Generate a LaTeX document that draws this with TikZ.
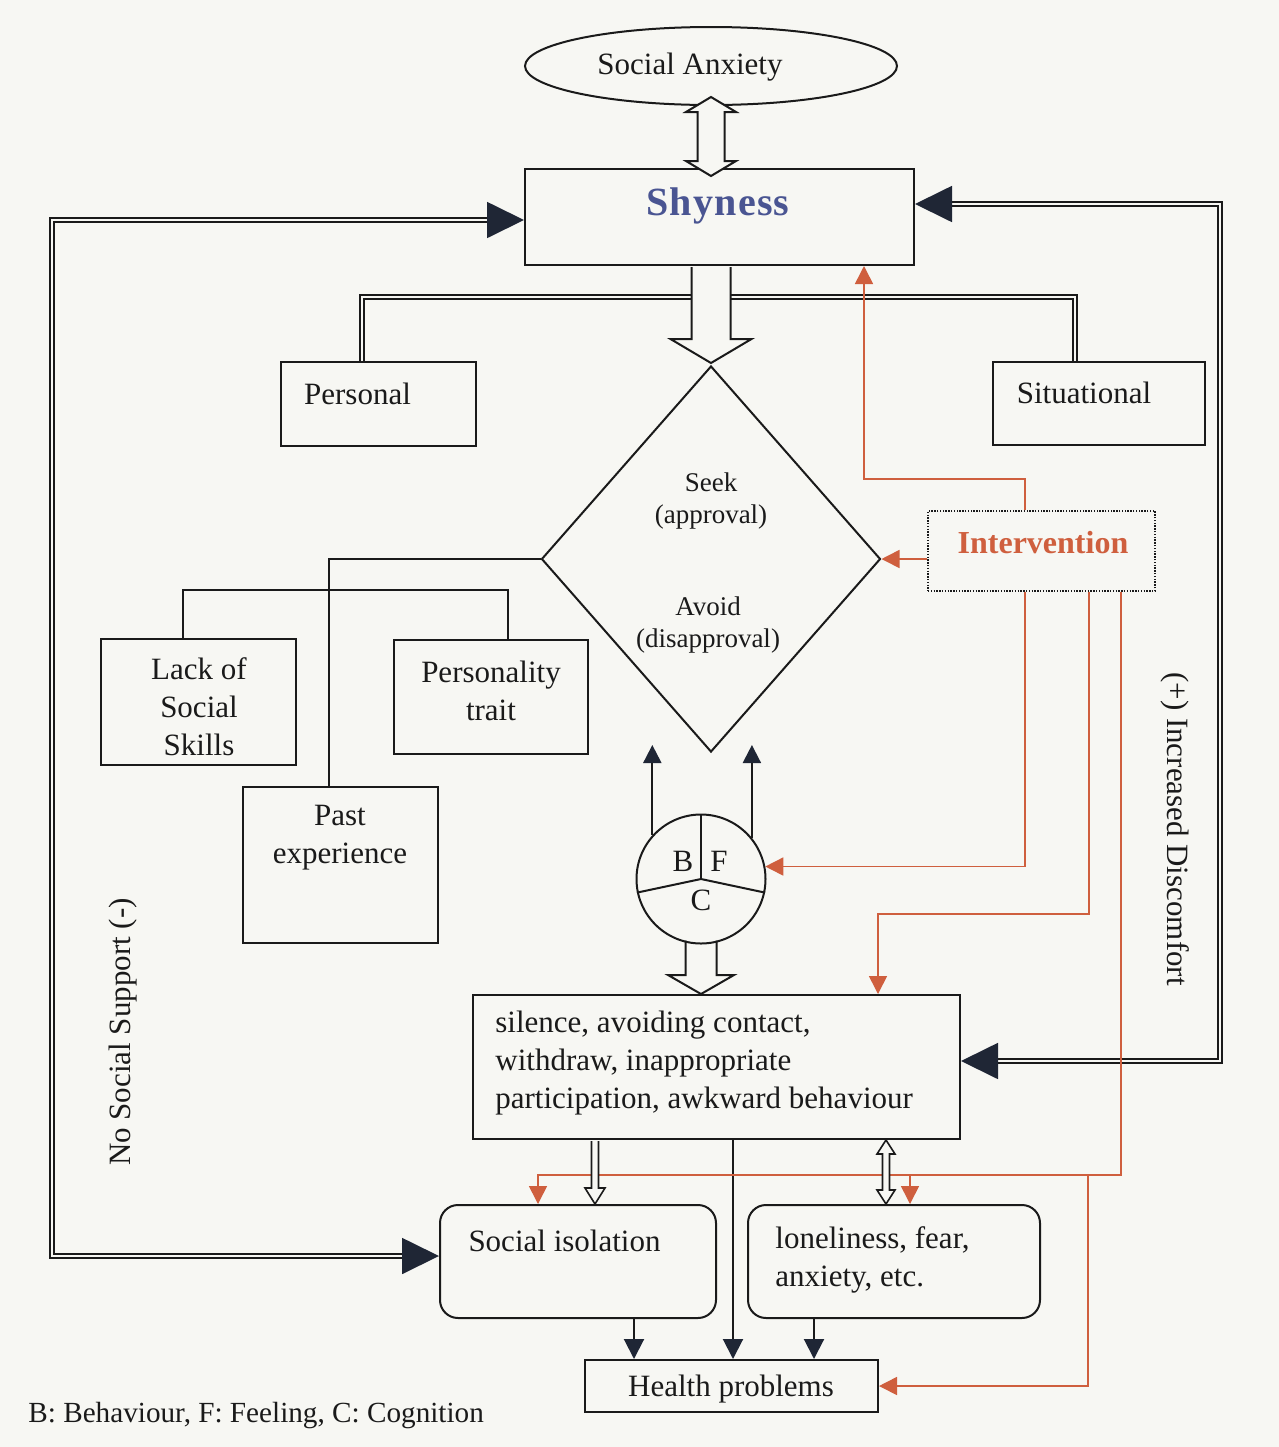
\documentclass[tikz,border=0pt]{standalone}
\usepackage{fontspec}
\setmainfont{Liberation Serif}
\newfontfamily\shyfont{Liberation Serif}[LetterSpace=3]
\usetikzlibrary{arrows.meta,shapes.geometric,calc}
\pgfdeclarelayer{back}
\pgfsetlayers{back,main}
\definecolor{bg}{HTML}{F7F7F3}
\definecolor{ink}{HTML}{1A1A1A}
\definecolor{navy}{HTML}{1F2635}
\definecolor{rust}{HTML}{CF5F3E}
\definecolor{shyblue}{HTML}{4A5592}
\begin{document}
\begin{tikzpicture}[x=0.5pt,y=-0.5pt,
  box/.style={draw=ink, line width=1pt, inner sep=0pt},
  rbox/.style={box, rounded corners=9pt},
  txt/.style={font=\fontsize{15.5pt}{19pt}\selectfont, text=ink, inner sep=0pt},
  small/.style={font=\fontsize{13.5pt}{16pt}\selectfont, text=ink, inner sep=0pt, align=center},
  wire/.style={draw=ink, line width=1pt},
  dbl/.style={draw=ink, line width=0.9pt, double=bg, double distance=1pt},
  bigtips/.style={{Triangle[length=18.5pt,width=18pt,color=navy]}-{Triangle[length=18.5pt,width=18pt,color=navy]}},
  navytip/.style={-{Triangle[length=10pt,width=10pt,color=navy]}},
  orng/.style={draw=rust, line width=0.8pt, -{Triangle[length=9pt,width=9pt]}},
  hollow/.style={draw=ink, line width=1pt, fill=bg, line join=miter}
]
\begin{pgfonlayer}{back}
\fill[bg] (0,0) rectangle (1279,1447);
\end{pgfonlayer}
\useasboundingbox (0,0) rectangle (1279,1447);

% ---------- nodes ----------
\node[draw=ink, line width=1pt, ellipse, minimum width=186pt, minimum height=39pt, inner sep=0pt] (sa) at (711,66) {};
\node[txt] (satext) at (690,67) {Social Anxiety};

\node[box, minimum width=194.5pt, minimum height=48pt] (shy) at (719.5,217) {};
\node[font=\shyfont\bfseries\fontsize{20pt}{24pt}\selectfont, text=shyblue, inner sep=0pt, anchor=base] (shytext) at (718,215) {Shyness};

\node[box, minimum width=97.5pt, minimum height=42pt] (personal) at (378.5,404) {};
\node[txt] (personaltext) at (357.5,394) {Personal};
\node[box, minimum width=106pt, minimum height=41.5pt] (situ) at (1099,403.5) {};
\node[txt] (situtext) at (1084,393) {Situational};

\node[draw=ink, line width=1pt, diamond, minimum width=169.5pt, minimum height=193pt, inner sep=0pt] (dia) at (711,559) {};
\node[small] (seek) at (711,501) {Seek\\(approval)};
\node[small] (avoid) at (708,625) {Avoid\\(disapproval)};

\node[draw=ink, line width=0.7pt, dash pattern=on 0.7pt off 0.7pt, inner sep=0pt, minimum width=113.5pt, minimum height=40pt] (int) at (1041.5,551) {};
\node[font=\bfseries\fontsize{16pt}{19pt}\selectfont, text=rust, inner sep=0pt] (inttext) at (1043,543) {Intervention};

\node[box, minimum width=97.5pt, minimum height=63pt] (lack) at (198.5,702) {};
\node[txt, align=center] (lacktext) at (199,707) {Lack of\\Social\\Skills};
\node[box, minimum width=97pt, minimum height=57pt] (pers) at (491,697) {};
\node[txt, align=center] (perstext) at (491,691) {Personality\\trait};
\node[box, minimum width=97.5pt, minimum height=78pt] (past) at (340.5,865) {};
\node[txt, align=center] (pasttext) at (340,838) {Past\\experience};

\node[draw=ink, line width=1pt, circle, minimum size=64.5pt, inner sep=0pt] (bfc) at (701,879) {};
\node[txt] (lb) at ($(bfc)+(-18,-18)$) {B};
\node[txt] (lf) at ($(bfc)+(18,-18)$) {F};
\node[txt] (lc) at ($(bfc)+(0,21)$) {C};

\node[box, minimum width=243.5pt, minimum height=72pt] (behav) at (716.5,1067) {};
\node[txt, align=left, anchor=west] (behavtext) at (495,1063) {silence, avoiding contact,\\withdraw, inappropriate\\participation, awkward behaviour};

\node[rbox, minimum width=138pt, minimum height=56.5pt] (socIso) at (578,1261.5) {};
\node[txt] (socisotext) at (564.5,1241) {Social isolation};
\node[rbox, minimum width=146pt, minimum height=56.5pt] (lonely) at (894,1261.5) {};
\node[txt, align=left, anchor=west] (lonelytext) at (775,1260) {loneliness, fear,\\anxiety, etc.};
\node[box, minimum width=146.5pt, minimum height=26pt] (health) at (731.5,1386) {};
\node[txt] (healthtext) at (731,1389) {Health problems};

\node[font=\fontsize{14.6pt}{18pt}\selectfont, text=ink, inner sep=0pt, anchor=base west] (legend) at (28,1422) {B: Behaviour, F: Feeling, C: Cognition};

\node[txt, rotate=90] (nosupport) at (123,1032) {No Social Support (-)};
\node[txt, rotate=-90] (discomfort) at (1175,829) {(+) Increased Discomfort};

% ---------- circle dividers ----------
\draw[wire] (bfc.center) -- (bfc.north);
\draw[wire] (bfc.center) -- (bfc.192);
\draw[wire] (bfc.center) -- (bfc.348);

% ---------- black connectors ----------
\coordinate (xP) at (329,0);
\draw[wire] (dia.west) -| (past.north -| xP);
\coordinate (bkL) at (183,590);
\coordinate (bkR) at (508,590);
\draw[wire] (lack.north -| bkL) -- (bkL) -- (bkR) -- (pers.north -| bkR);

\coordinate (dl) at (362,297);
\coordinate (dr) at (1075,297);
\draw[dbl] (personal.north -| dl) -- (dl) -- (dr) -- (situ.north -| dr);

\coordinate (lt) at (52,220);
\coordinate (lbt) at (52,1256);
\draw[dbl, bigtips] (shy.west |- lt) -- (lt) -- (lbt) -- (socIso.west |- lbt);
\coordinate (rt) at (1220,204);
\coordinate (rb) at (1220,1061);
\draw[dbl, bigtips] (shy.east |- rt) -- (rt) -- (rb) -- (behav.east |- rb);

\coordinate (up) at (0,745);
\draw[wire, -{Triangle[length=9pt,width=9pt,color=navy]}] (bfc.138) -- (bfc.138 |- up);
\draw[wire, -{Triangle[length=9pt,width=9pt,color=navy]}] (bfc.39) -- (bfc.39 |- up);

\coordinate (xH1) at (634,0);
\coordinate (xH2) at (733,0);
\coordinate (xH3) at (814,0);
\draw[wire, navytip] (socIso.south -| xH1) -- (health.north -| xH1);
\draw[wire, navytip] (behav.south -| xH2) -- (health.north -| xH2);
\draw[wire, navytip] (lonely.south -| xH3) -- (health.north -| xH3);

% ---------- orange connectors ----------
\coordinate (k1) at (864,479);
\draw[orng] ([xshift=-8.25pt]int.north) |- (k1) -- (k1 |- shy.south);
\draw[orng] ([yshift=-4pt]int.west) -- (dia.east);
\draw[orng] ([xshift=-8.25pt]int.south) |- (bfc.11);
\coordinate (k4) at (878,914);
\draw[orng] ([xshift=23.75pt]int.south) |- (k4) -- (k4 |- behav.north);
\coordinate (k5) at (538,1175);
\draw[orng] ([xshift=39.75pt]int.south) |- (k5) -- (k5 |- socIso.north);
\coordinate (k6) at (910,1175);
\draw[orng] (k6) -- (k6 |- lonely.north);
\coordinate (k7) at (1088,1175);
\draw[orng] (k7) |- (health.east);

% ---------- hollow block arrows ----------
\coordinate (aT) at ($(sa.south)+(0,-9)$);
\coordinate (aB) at ($(shy.north -| sa.south)+(0,8)$);
\draw[hollow] (aT) -- ++(25,15) -- ++(-11.5,0) -- ($(aB)+(13.5,-15)$) -- ++(11.5,0) -- (aB)
  -- ++(-25,-15) -- ++(11.5,0) -- ($(aT)+(-13.5,15)$) -- ++(-11.5,0) -- cycle;

\coordinate (dT) at (shy.south -| dia.north);
\draw[hollow] ($(dT)+(-19.5,1)$) -- ($(dia.north)+(-19.5,-26)$) -- ++(-21,0) -- ($(dia.north)+(0,-2)$)
  -- ($(dia.north)+(40.5,-26)$) -- ++(-21,0) -- ($(dT)+(19.5,1)$);

\begin{pgfonlayer}{back}
\coordinate (eB) at (behav.north -| bfc.south);
\draw[hollow] ($(bfc.south)+(-15.5,-4)$) -- ($(eB)+(-15.5,-19)$) -- ++(-17.5,0) -- (eB)
  -- ($(eB)+(33,-19)$) -- ++(-17.5,0) -- ($(bfc.south)+(15.5,-4)$);
\end{pgfonlayer}

\coordinate (xF) at (595,0);
\coordinate (fT) at (behav.south -| xF);
\coordinate (fB) at (socIso.north -| xF);
\draw[hollow, line width=0.8pt] ($(fT)+(-3.5,1)$) -- ($(fB)+(-3.5,-16)$) -- ++(-6.5,0) -- (fB)
  -- ($(fB)+(10,-16)$) -- ++(-6.5,0) -- ($(fT)+(3.5,1)$);

\coordinate (xG) at (886,0);
\coordinate (gT) at (behav.south -| xG);
\coordinate (gB) at (lonely.north -| xG);
\draw[hollow, line width=0.8pt] (gT) -- ($(gT)+(9,14)$) -- ++(-5.5,0) -- ($(gB)+(3.5,-14)$) -- ++(5.5,0) -- (gB)
  -- ($(gB)+(-9,-14)$) -- ++(5.5,0) -- ($(gT)+(-3.5,14)$) -- ++(-5.5,0) -- cycle;
\end{tikzpicture}
\end{document}
